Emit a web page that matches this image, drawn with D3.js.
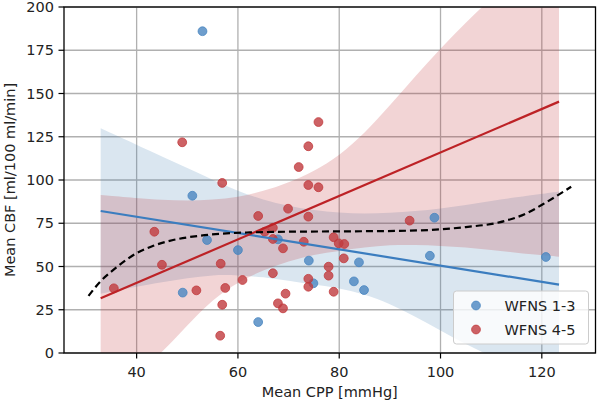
<!DOCTYPE html>
<html><head><meta charset="utf-8">
<script src="https://cdn.jsdelivr.net/npm/d3@7"></script>
<style>body{margin:0;background:#fff;} svg{display:block;}</style>
</head><body>
<svg id="chart" width="598" height="402"></svg>
<script>
// ---- data ----
const blueX = [53.0,51.0,53.9,60.0,49.1,64.0,67.9,74.0,74.9,83.9,82.9,84.9,98.8,97.9,120.8];
const blueY = [186,90.9,65.3,59.5,34.9,17.9,65.7,53.4,40.3,52.4,41.4,36.4,78.2,56.2,55.5];
const redX = [49.0,35.5,43.5,45.0,51.8,56.9,56.6,57.5,56.9,56.5,60.9,75.9,73.9,72.0,73.9,75.9,69.9,64.0,73.9,93.9,65.3,66.9,66.9,68.9,73.0,78.9,79.9,81.0,80.9,77.9,77.9,73.9,66.9,69.4,67.9,68.9,73.9,78.9];
const redY = [121.8,37.4,70.1,51.0,36.2,98.3,51.6,37.6,27.9,10.0,42.2,133.5,119.5,107.5,97.1,95.8,83.4,79.2,78.8,76.5,70.1,72.4,65.9,60.5,64.3,66.9,63.4,63.0,54.7,49.9,44.7,42.9,46.1,34.3,28.7,25.8,38.3,35.4];
const fitX = [32.9, 123.4];
const blueFit = [82.1, 39.5];
const redFit = [31.6, 145.3];
const bandX =     [32.9, 40,   45,   50,   55,   60,   65,   70,  75,   80,  85,   90,  95,  100, 105, 110, 115, 120, 123.4];
const blueUpper = [129.9,120.4,113.6,106.9,100.1,93.6, 88.5, 85,  82.5, 81,  80.5, 81,  82,  83.5,85.5,88,  90,  92,  93.3];
const blueLower = [34.3, 38.5, 41.0, 43.3, 45.2, 45.0, 43.9, 41.7,39.5, 37.5,34,   28.5,21,  13,  5,   -2,  -8,  -14, -18];
const redUpper =  [91.3, 89.5, 88.5, 88,   88.5, 90,   93.5, 98.5,105,  114, 127,  143, 160, 176, 191, 205, 219, 232, 241];
const redLower =  [-28,  -12,  0,    16,   31,   41,   48,   53,  57,   59,  61,   62.5,62.5,62, 61,  59.5,58,  56.5,55.7];
const dashX = [30.5,32.8,35.4,39.3,43.3,47.2,52.5,57,62.3,70,80,91.9,100,105,111.6,116.8,120.8,125.8];
const dashY = [33,41.2,48,56.5,62,65.3,67.8,69,69.7,70.1,70.3,70.6,71.5,72.8,75.5,80.5,87,96.1];
const xTicks = [40,60,80,100,120];
const yTicks = [0,25,50,75,100,125,150,175,200];
const legendLabels = ["WFNS 1-3","WFNS 4-5"];

// ---- drawing ----
const svg = d3.select("#chart");
const L = 64, R = 595.5, T = 7, B = 353;
const x = d3.scaleLinear().domain([25.66,130.6]).range([L,R]);
const y = d3.scaleLinear().domain([0,200]).range([B,T]);
const font = "DejaVu Sans, sans-serif";
const blueC = "#3b7dbf", redC = "#bd2226";
const bluePt = "#4a86c0", redPt = "#c13b3e";

svg.append("defs").append("clipPath").attr("id","clip")
  .append("rect").attr("x",L).attr("y",T).attr("width",R-L).attr("height",B-T);

// grid
const g = svg.append("g");
xTicks.forEach(t=>g.append("line").attr("x1",x(t)).attr("x2",x(t)).attr("y1",T).attr("y2",B)
  .attr("stroke","#b0b0b0").attr("stroke-width",1.3));
yTicks.forEach(t=>g.append("line").attr("x1",L).attr("x2",R).attr("y1",y(t)).attr("y2",y(t))
  .attr("stroke","#b0b0b0").attr("stroke-width",1.3));

const plot = svg.append("g").attr("clip-path","url(#clip)");
const area = (lo,hi)=>d3.area().x((d,i)=>x(bandX[i])).y0((d,i)=>y(lo[i])).y1((d,i)=>y(hi[i])).curve(d3.curveBasis);

// bands
plot.append("path").datum(bandX).attr("d",area(blueLower,blueUpper)).attr("fill","#4682b4").attr("fill-opacity",0.2);
plot.append("path").datum(bandX).attr("d",area(redLower,redUpper)).attr("fill","#c0282c").attr("fill-opacity",0.2);

// points
plot.append("g").selectAll("circle").data(blueX).join("circle")
  .attr("cx",(d)=>x(d)).attr("cy",(d,i)=>y(blueY[i])).attr("r",4.4)
  .attr("fill",bluePt).attr("fill-opacity",0.8).attr("stroke",bluePt).attr("stroke-width",0.8);
plot.append("g").selectAll("circle").data(redX).join("circle")
  .attr("cx",(d)=>x(d)).attr("cy",(d,i)=>y(redY[i])).attr("r",4.4)
  .attr("fill",redPt).attr("fill-opacity",0.8).attr("stroke",redPt).attr("stroke-width",0.8);

// fit lines
plot.append("line").attr("x1",x(fitX[0])).attr("x2",x(fitX[1])).attr("y1",y(blueFit[0])).attr("y2",y(blueFit[1]))
  .attr("stroke",blueC).attr("stroke-width",2.2);
plot.append("line").attr("x1",x(fitX[0])).attr("x2",x(fitX[1])).attr("y1",y(redFit[0])).attr("y2",y(redFit[1]))
  .attr("stroke",redC).attr("stroke-width",2.2);

// dashed
plot.append("path").datum(dashX).attr("d",d3.line().x(d=>x(d)).y((d,i)=>y(dashY[i])).curve(d3.curveMonotoneX))
  .attr("fill","none").attr("stroke","#000").attr("stroke-width",2.2).attr("stroke-dasharray","7,4");

// spines
svg.append("rect").attr("x",L).attr("y",T).attr("width",R-L).attr("height",B-T)
  .attr("fill","none").attr("stroke","#000").attr("stroke-width",1.3);

// ticks
xTicks.forEach(t=>{
  svg.append("line").attr("x1",x(t)).attr("x2",x(t)).attr("y1",B).attr("y2",B+5.5).attr("stroke","#000").attr("stroke-width",1.2);
  svg.append("text").attr("x",x(t)).attr("y",377).attr("text-anchor","middle")
    .attr("font-family",font).attr("font-size",14.5).attr("fill","#222").text(t);
});
yTicks.forEach(t=>{
  svg.append("line").attr("x1",L-5.5).attr("x2",L).attr("y1",y(t)).attr("y2",y(t)).attr("stroke","#000").attr("stroke-width",1.2);
  svg.append("text").attr("x",54).attr("y",y(t)+5.2).attr("text-anchor","end")
    .attr("font-family",font).attr("font-size",14.5).attr("fill","#222").text(t);
});
svg.append("text").attr("x",(L+R)/2).attr("y",397).attr("text-anchor","middle")
  .attr("font-family",font).attr("font-size",14.5).attr("fill","#222").text("Mean CPP [mmHg]");
svg.append("text").attr("transform",`translate(15,${(T+B)/2}) rotate(-90)`).attr("text-anchor","middle")
  .attr("font-family",font).attr("font-size",14.5).attr("fill","#222").text("Mean CBF [ml/100 ml/min]");

// legend
const lg = svg.append("g");
lg.append("rect").attr("x",453.5).attr("y",291).attr("width",135).attr("height",53).attr("rx",3)
  .attr("fill","#fff").attr("fill-opacity",0.8).attr("stroke","#cccccc").attr("stroke-width",1);
[bluePt, redPt].forEach((c,i)=>{
  lg.append("circle").attr("cx",476).attr("cy",305.5+i*24).attr("r",4.4)
    .attr("fill",c).attr("fill-opacity",0.8).attr("stroke",c).attr("stroke-width",0.8);
  lg.append("text").attr("x",504.5).attr("y",305.5+i*24+5.2).attr("font-family",font)
    .attr("font-size",14.5).attr("fill","#222").text(legendLabels[i]);
});
</script>
</body></html>
